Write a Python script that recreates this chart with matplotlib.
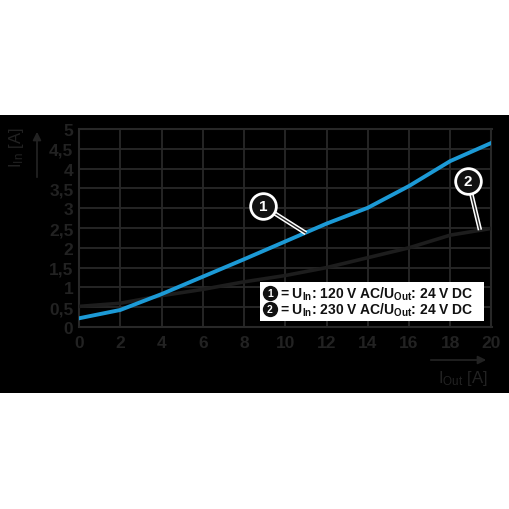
import matplotlib
matplotlib.use('Agg')
import matplotlib.pyplot as plt
from matplotlib.patches import Rectangle, FancyArrowPatch

plt.rcParams['font.family'] = ['Liberation Sans Narrow', 'Liberation Sans', 'DejaVu Sans']
plt.rcParams['mathtext.default'] = 'regular'

# data
i_out = [0, 2, 4, 6, 8, 10, 12, 14, 16, 18, 20]
i_in_120 = [0.22, 0.43, 0.83, 1.27, 1.71, 2.16, 2.61, 3.01, 3.56, 4.19, 4.65]
i_in_230 = [0.52, 0.60, 0.79, 0.95, 1.14, 1.30, 1.50, 1.75, 2.00, 2.32, 2.49]

x_ticks = list(range(0, 21, 2))
y_ticks = [0, 0.5, 1, 1.5, 2, 2.5, 3, 3.5, 4, 4.5, 5]
y_labels = ['0', '0,5', '1', '1,5', '2', '2,5', '3', '3,5', '4', '4,5', '5']

legend_lines = ['= U$_{In}$: 120 V AC/U$_{Out}$: 24 V DC',
                '= U$_{In}$: 230 V AC/U$_{Out}$: 24 V DC']

txt_col = '#222222'
grid_col = '#282828'
blue = '#1c9ad6'
dark = '#1d1d1d'

fig = plt.figure(figsize=(5.1, 5.1), dpi=100)
fig.patch.set_facecolor('white')
fig.patches.append(Rectangle((0, 1 - 394 / 510), 1, 278 / 510, transform=fig.transFigure,
                             facecolor='black', edgecolor='none', zorder=-5))

ax = fig.add_axes([79 / 510, 1 - 328 / 510, 412.5 / 510, 198 / 510])
ax.set_facecolor('black')
ax.set_xlim(0, 20)
ax.set_ylim(0, 5)
ax.set_xticks(x_ticks)
ax.set_yticks(y_ticks)
ax.set_yticklabels(y_labels)
ax.tick_params(length=0, colors=txt_col, labelsize=12.5)
ax.tick_params(axis='x', pad=6)
ax.tick_params(axis='y', pad=4)
for lab in ax.get_xticklabels() + ax.get_yticklabels():
    lab.set_fontweight('bold')
ax.grid(True, color=grid_col, lw=1.3)
for s in ax.spines.values():
    s.set_color(grid_col)
    s.set_linewidth(1.5)

ax.plot(i_out, i_in_230, color=dark, lw=2.6, zorder=3)
ax.plot(i_out, i_in_120, color=blue, lw=2.8, zorder=4)

# callouts
callouts = [('1', 8.91, 3.06, 11.0, 2.37), ('2', 18.87, 3.69, 19.44, 2.45)]
for num, cx, cy, ex, ey in callouts:
    ax.plot([cx, ex], [cy, ey], color='white', lw=3.2, zorder=5, clip_on=False,
            solid_capstyle='butt')
    ax.plot([cx, ex], [cy, ey], color='#222222', lw=1.0, zorder=6, clip_on=False,
            solid_capstyle='butt')
    ax.plot(cx, cy, 'o', ms=18.5, mfc='#111111', mec='white', mew=2.0, zorder=7, clip_on=False)
    ax.text(cx, cy, num, color='white', fontsize=11, fontweight='bold', family='Liberation Sans',
            ha='center', va='center', zorder=8)

# legend box
ax.add_patch(Rectangle((0.439, 0.032), 0.543, 0.194, transform=ax.transAxes,
                       facecolor='white', edgecolor='none', zorder=9))
for k, (num, line) in enumerate(zip(['1', '2'], legend_lines)):
    yy = 0.172 - k * 0.082
    ax.plot(0.463, yy, 'o', ms=11, mfc='#111111', mec='none', transform=ax.transAxes,
            zorder=10, clip_on=False)
    ax.text(0.463, yy, num, color='white', fontsize=7.5, fontweight='bold', family='Liberation Sans',
            ha='center', va='center', transform=ax.transAxes, zorder=11)
    ax.text(0.487, yy, line, color='#111111', fontsize=10, fontweight='bold',
            family='Liberation Sans', ha='left', va='center', transform=ax.transAxes, zorder=11)

# axis labels with arrows
fig.text(17 / 510, 1 - 148 / 510, 'I$_{In}$ [A]', rotation=90, color=txt_col, fontsize=12,
         ha='center', va='center')
fig.text(463 / 510, 1 - 378 / 510, 'I$_{Out}$ [A]', color=txt_col, fontsize=12,
         ha='center', va='center')
fig.patches.append(FancyArrowPatch(
    (37 / 510, 1 - 181 / 510), (37 / 510, 1 - 130 / 510), transform=fig.transFigure,
    arrowstyle='-|>', mutation_scale=12, color=txt_col, lw=1.3))
fig.patches.append(FancyArrowPatch(
    (428 / 510, 1 - 361 / 510), (489 / 510, 1 - 361 / 510), transform=fig.transFigure,
    arrowstyle='-|>', mutation_scale=12, color=txt_col, lw=1.3))

fig.savefig('out.png', dpi=100, facecolor='white')
